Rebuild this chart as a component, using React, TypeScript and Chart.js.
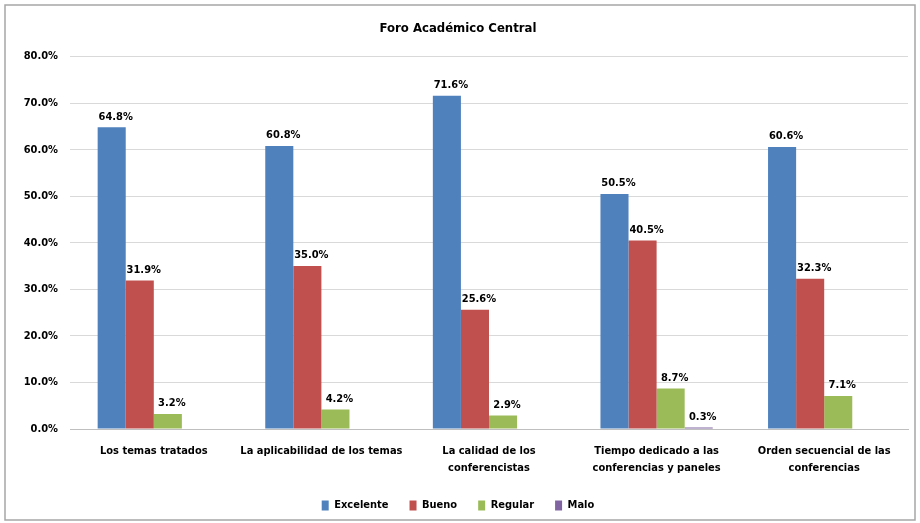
import React, { useEffect, useRef } from "react";
import { Chart, registerables } from "chart.js";

Chart.register(...registerables);

const categories: (string | string[])[] = [
  "Los temas tratados",
  "La aplicabilidad de los temas",
  ["La calidad de los", "conferencistas"],
  ["Tiempo dedicado a las", "conferencias y paneles"],
  ["Orden secuencial de las", "conferencias"],
];
const excelente = [64.8, 60.8, 71.6, 50.5, 60.6];
const bueno = [31.9, 35.0, 25.6, 40.5, 32.3];
const regular = [3.2, 4.2, 2.9, 8.7, 7.1];
const malo = [0, 0, 0, 0.3, 0];
const yTicks = [0, 10, 20, 30, 40, 50, 60, 70, 80];

const FONT = "'Liberation Sans Narrow', 'DejaVu Sans Condensed', 'Liberation Sans', sans-serif";

const labelPlugin = {
  id: "valueLabels",
  afterDatasetsDraw(chart: any) {
    const ctx = chart.ctx;
    ctx.save();
    ctx.font = `bold 11px ${FONT}`;
    ctx.fillStyle = "#000";
    ctx.textAlign = "center";
    ctx.textBaseline = "bottom";
    chart.data.datasets.forEach((ds: any, di: number) => {
      const meta = chart.getDatasetMeta(di);
      meta.data.forEach((bar: any, i: number) => {
        const v = ds.data[i];
        if (!v) return;
        ctx.fillText(v.toFixed(1) + "%", bar.x + 4, bar.y - 5);
      });
    });
    ctx.restore();
  },
};

const framePlugin = {
  id: "frame",
  beforeDraw(chart: any) {
    const ctx = chart.ctx;
    ctx.save();
    ctx.fillStyle = "#fff";
    ctx.fillRect(0, 0, chart.width, chart.height);
    ctx.strokeStyle = "#a6a6a6";
    ctx.lineWidth = 1.5;
    ctx.strokeRect(5, 5, chart.width - 10, chart.height - 8);
    ctx.restore();
  },
};

export default function App() {
  const ref = useRef<HTMLCanvasElement>(null);
  useEffect(() => {
    document.body.style.margin = "0";
    const chart = new Chart(ref.current!, {
      type: "bar",
      data: {
        labels: categories,
        datasets: [
          { label: "Excelente", data: excelente, backgroundColor: "#4F81BD" },
          { label: "Bueno", data: bueno, backgroundColor: "#C0504D" },
          { label: "Regular", data: regular, backgroundColor: "#9BBB59" },
          { label: "Malo", data: malo, backgroundColor: "#8064A2" },
        ],
      },
      options: {
        animation: false,
        responsive: false,
        devicePixelRatio: 1,
        layout: { padding: { left: 8, right: 12, top: 4, bottom: 2 } },
        datasets: { bar: { categoryPercentage: 0.67, barPercentage: 1 } } as any,
        plugins: {
          title: {
            display: true,
            text: "Foro Académico Central",
            color: "#000",
            font: { family: FONT, size: 13, weight: "bold" },
            padding: { top: 17, bottom: 20 },
          },
          legend: {
            position: "bottom",
            labels: {
              color: "#000",
              boxWidth: 7,
              boxHeight: 10,
              padding: 21,
              font: { family: FONT, size: 11, weight: "bold" },
            },
          },
          tooltip: { enabled: false },
        },
        scales: {
          x: {
            grid: { display: false, drawTicks: false },
            border: { display: true, color: "#bfbfbf" },
            afterFit(scale: any) {
              scale.height = 50;
            },
            ticks: {
              color: "#000",
              maxRotation: 0,
              padding: 14,
              font: { family: FONT, size: 11, weight: "bold", lineHeight: 1.55 },
            },
          },
          y: {
            min: 0,
            max: 80,
            afterBuildTicks(scale: any) {
              scale.ticks = yTicks.map((v) => ({ value: v }));
            },
            afterFit(scale: any) {
              scale.width = 62;
            },
            grid: { color: "#d9d9d9", drawTicks: false },
            border: { display: false },
            ticks: {
              color: "#000",
              padding: 12,
              font: { family: FONT, size: 11, weight: "bold" },
              callback: (v: any) => Number(v).toFixed(1) + "%",
            },
          },
        },
      },
      plugins: [framePlugin, labelPlugin],
    });
    return () => chart.destroy();
  }, []);
  return <canvas ref={ref} width={920} height={523} style={{ display: "block" }} />;
}
